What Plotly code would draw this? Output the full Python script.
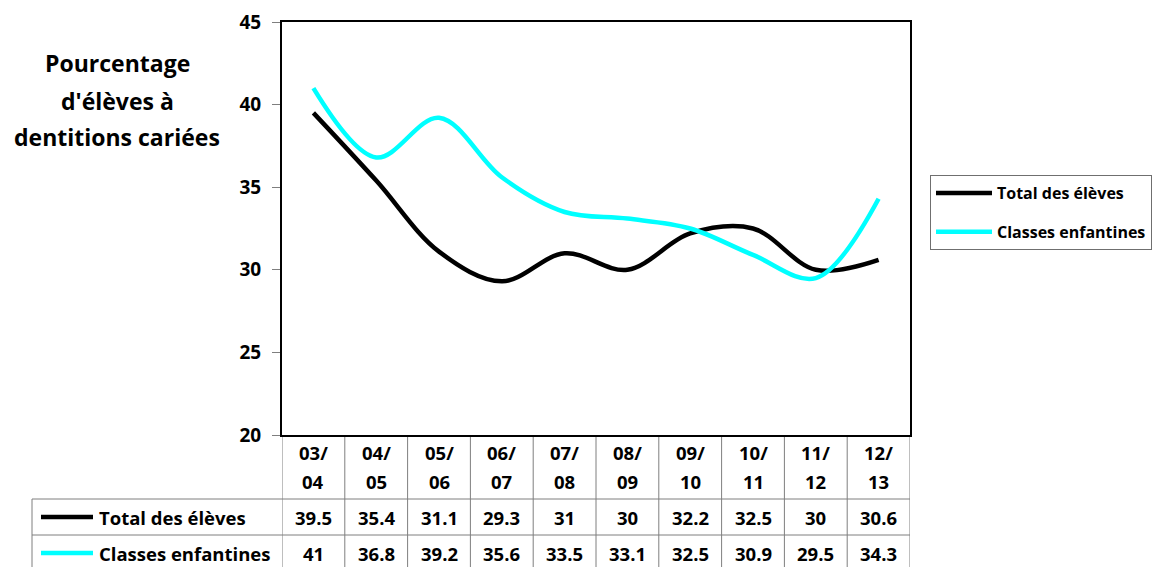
import plotly.graph_objects as go

categories = ["03/04", "04/05", "05/06", "06/07", "07/08",
              "08/09", "09/10", "10/11", "11/12", "12/13"]
total_eleves = [39.5, 35.4, 31.1, 29.3, 31, 30, 32.2, 32.5, 30, 30.6]
classes_enfantines = [41, 36.8, 39.2, 35.6, 33.5, 33.1, 32.5, 30.9, 29.5, 34.3]
series_names = ["Total des élèves", "Classes enfantines"]
series_colors = ["#000000", "#00FFFF"]
y_ticks = [20, 25, 30, 35, 40, 45]
title_lines = ["Pourcentage", "d'élèves à", "dentitions cariées"]

OFF = 8  # page body margin
W, H = 1160 - OFF, 567 - OFF
L, R, T, B = 282 - OFF, 910 - OFF, 22 - OFF, 435 - OFF
pw, ph = R - L, B - T

def px(xs):
    return (xs - OFF - L) / pw

def py(ys):
    return (B - (ys - OFF)) / ph

FONT = "Open Sans"
idx = list(range(len(categories)))

fig = go.Figure()
for k, (name, vals, col) in enumerate(zip(series_names, [total_eleves, classes_enfantines], series_colors)):
    fig.add_trace(go.Scatter(x=idx, y=vals, name="<b>" + name + "</b>", mode="lines",
                             legendgroup="g%d" % k,
                             line=dict(color=col, width=4.5, shape="spline", smoothing=1.0)))

shapes = []
annotations = []
grid = dict(color="#7F7F7F", width=1)
for i in range(len(categories) + 1):
    shapes.append(dict(type="line", xref="x", yref="paper", x0=i - 0.5, x1=i - 0.5,
                       y0=0, y1=py(580), line=grid, layer="below"))
for yl in [499, 535, 571]:
    shapes.append(dict(type="line", xref="paper", yref="paper", x0=px(32), x1=1,
                       y0=py(yl), y1=py(yl), line=grid))
shapes.append(dict(type="line", xref="paper", yref="paper", x0=px(32), x1=px(32),
                   y0=py(499), y1=py(580), line=grid))

tf = dict(family=FONT, size=18.5, color="black")
for i, c in enumerate(categories):
    a, b = c.split("/")
    annotations.append(dict(xref="x", yref="paper", x=i, y=py(452), text="<b>" + a + "/</b>",
                            showarrow=False, font=tf, xanchor="center", yanchor="middle"))
    annotations.append(dict(xref="x", yref="paper", x=i, y=py(481), text="<b>" + b + "</b>",
                            showarrow=False, font=tf, xanchor="center", yanchor="middle"))
row_y = [517, 553]
for r, (name, vals, col) in enumerate(zip(series_names, [total_eleves, classes_enfantines], series_colors)):
    yv = row_y[r]
    shapes.append(dict(type="line", xref="paper", yref="paper", x0=px(41), x1=px(93),
                       y0=py(yv), y1=py(yv), line=dict(color=col, width=4.5)))
    annotations.append(dict(xref="paper", yref="paper", x=px(97), y=py(yv), xanchor="left",
                            yanchor="middle", text="<b>" + name + "</b>", showarrow=False, font=tf))
    for i, v in enumerate(vals):
        annotations.append(dict(xref="x", yref="paper", x=i, y=py(yv), text="<b>%g</b>" % v,
                                showarrow=False, font=tf, xanchor="center", yanchor="middle"))

for line, yl in zip(title_lines, [63, 101, 137]):
    annotations.append(dict(xref="paper", yref="paper", x=px(117), y=py(yl),
                            xanchor="center", yanchor="middle", text="<b>" + line + "</b>",
                            showarrow=False, font=dict(family=FONT, size=23, color="black")))

fig.update_layout(
    template="none",
    width=W, height=H,
    margin=dict(l=L, r=W - R, t=T, b=H - B, pad=0, autoexpand=False),
    paper_bgcolor="white", plot_bgcolor="white",
    showlegend=True,
    legend=dict(x=px(930), y=py(175), xanchor="left", yanchor="top",
                bordercolor="#6F6F6F", borderwidth=1, bgcolor="white",
                font=dict(family=FONT, size=16, color="black"),
                itemwidth=56, tracegroupgap=15, traceorder="grouped"),
    xaxis=dict(range=[-0.5, len(categories) - 0.5], showticklabels=False, ticks="",
               showgrid=False, zeroline=False, showline=True, linecolor="black",
               linewidth=2, mirror=True, automargin=False),
    yaxis=dict(range=[20, 45], tickvals=y_ticks, ticktext=["<b>%d</b>" % t for t in y_ticks],
               ticks="outside", ticklen=8, tickcolor="#7F7F7F", tickwidth=1,
               ticklabelstandoff=7, automargin=False,
               showgrid=False, zeroline=False, showline=True, linecolor="black",
               linewidth=2, mirror=True, tickfont=dict(family=FONT, size=19, color="black")),
    shapes=shapes, annotations=annotations,
)

fig.write_html("out.html")
